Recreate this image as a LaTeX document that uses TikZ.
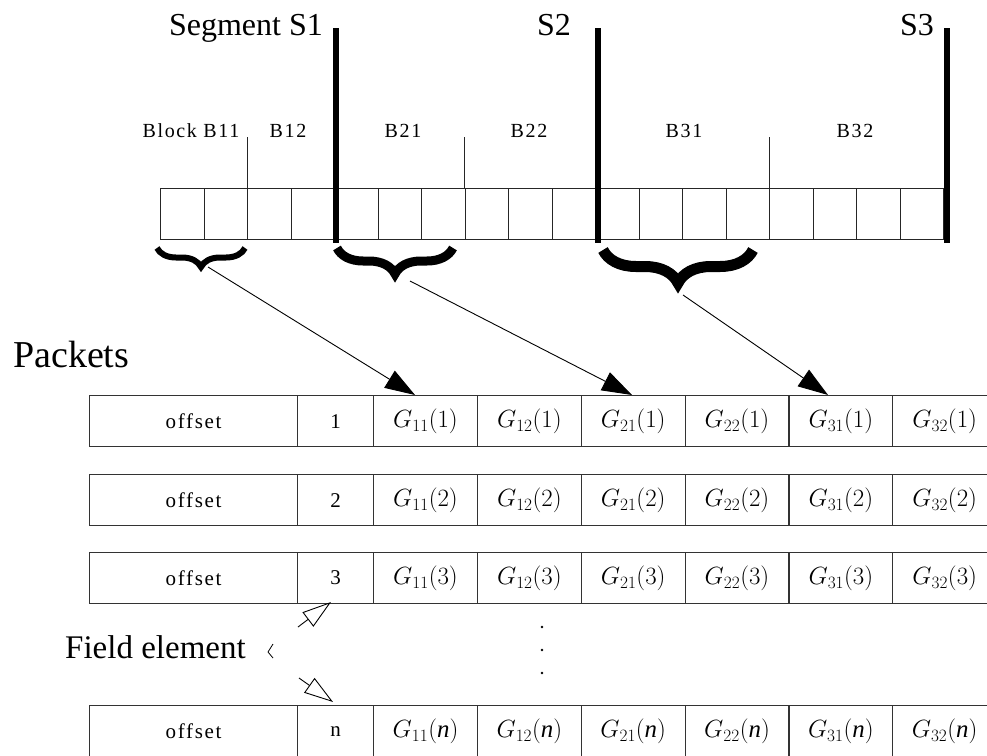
\documentclass[tikz,border=0pt]{standalone}
\usepackage{fontspec}
\setmainfont{Liberation Serif}
\newfontfamily\lblfont[LetterSpace=8]{Liberation Serif}
\usetikzlibrary{arrows.meta,decorations.pathreplacing}
\DeclareMathSizes{24.88}{24.88}{16}{12}
\begin{document}
\begin{tikzpicture}[x=1pt,y=-1pt,
  acell/.style={draw=black!85, line width=1pt, inner sep=0pt,
    minimum width=43.5pt, minimum height=51pt, anchor=north west},
  pcell/.style={draw=black!80, line width=1.2pt, inner sep=0pt,
    minimum height=51pt, anchor=north west},
  segbar/.style={line width=6pt},
  divider/.style={line width=1pt, draw=black!85},
  seghead/.style={font=\fontsize{32}{32}\selectfont, anchor=base east, inner sep=0pt},
  bighead/.style={anchor=base west, inner sep=0pt},
  blocklbl/.style={font=\lblfont\fontsize{20}{20}\selectfont, anchor=base, inner sep=0pt},
  small/.style={font=\lblfont\fontsize{21}{21}\selectfont},
  gfont/.style={font=\fontsize{24.88}{24.88}\selectfont},
  boldbrace/.style={decorate, decoration={brace, mirror, amplitude=#1}},
  maparrow/.style={line width=0.9pt, -{Triangle[length=30pt,width=20pt]}},
  openarrow/.style={line width=0.9pt, -{Triangle[open,length=29pt,width=18pt,line width=0.9pt]}}
]
\useasboundingbox (0,0) rectangle (987,755);
\clip (0,0) rectangle (987,755);

% ---- the array of 18 field elements ----
\foreach \i in {1,...,18}
  \node[acell] (a\i) at ({160+43.5*(\i-1)},188) {};

% block dividers
\draw[divider] (a3.north west) -- ++(0,-51);
\draw[divider] (a8.north west) -- ++(0,-51);
\draw[divider] (a15.north west) -- ++(0,-51);

% segment bars
\coordinate (s1) at (336,28);
\coordinate (s2) at (597.5,28);
\coordinate (s3) at (947,28);
\draw[segbar] (s1) -- (336,243);
\draw[segbar] (s2) -- (597.5,243);
\draw[segbar] (s3) -- (947,243);

% segment titles
\node[seghead] (t1) at (323,35) {Segment S1};
\node[seghead] (t2) at (571,35) {S2};
\node[seghead] (t3) at (934,35) {S3};

% block titles
\node[blocklbl] (b11) at (191,137) {Block B11};
\node[blocklbl] (b12) at (288,137) {B12};
\node[blocklbl] (b21) at (403,137) {B21};
\node[blocklbl] (b22) at (529,137) {B22};
\node[blocklbl] (b31) at (684,137) {B31};
\node[blocklbl] (b32) at (855,137) {B32};

% braces
\draw[boldbrace=19pt, line width=6pt] (157,248) -- (245,248);
\draw[boldbrace=26pt, line width=9pt] (337,248) -- (453,248);
\draw[boldbrace=33pt, line width=11pt] (603,250) -- (753,250);

% ---- packets ----
\node[bighead, font=\fontsize{38}{38}\selectfont] (pk) at (13,367) {Packets};

\foreach \r/\y/\k in {1/395/1, 2/474/2, 3/552/3, n/705/{\textit{n}}} {
  \node[pcell, minimum width=208pt, small] (o\r) at (89,\y) {offset};
  \node[pcell, minimum width=76pt, small] (n\r) at (297,\y) {\r};
  \foreach \g/\s [count=\c from 0] in {11,12,21,22,31,32}
    \node[pcell, minimum width=103.83pt, gfont] (g\r\g) at ({373+103.83*\c},\y)
      {$G_{\g}(\k)$};
}

% vertical dots between packet 3 and packet n
\foreach \yy in {627,650,673}
  \fill (542,\yy) circle (1.3pt);

% mapping arrows from the braces to the packets
\coordinate (m1) at (208,267);
\coordinate (m2) at (410,281);
\coordinate (m3) at (683,295);
\coordinate (e1) at (415,395);
\coordinate (e2) at (632,395);
\coordinate (e3) at (828,395);
\draw[maparrow] (m1) -- (e1);
\draw[maparrow] (m2) -- (e2);
\draw[maparrow] (m3) -- (e3);

% field element pointer
\node[bighead, font=\fontsize{33}{33}\selectfont] (fe) at (65,658) {Field element};
\draw[line width=0.8pt] (273,644) -- (268,652) -- (273,658);
\coordinate (f1) at (298,627);
\coordinate (f2) at (299,678);
\coordinate (h1) at (331,602);
\coordinate (h2) at (333,702);
\draw[openarrow] (f1) -- (h1);
\draw[openarrow] (f2) -- (h2);
\end{tikzpicture}
\end{document}
